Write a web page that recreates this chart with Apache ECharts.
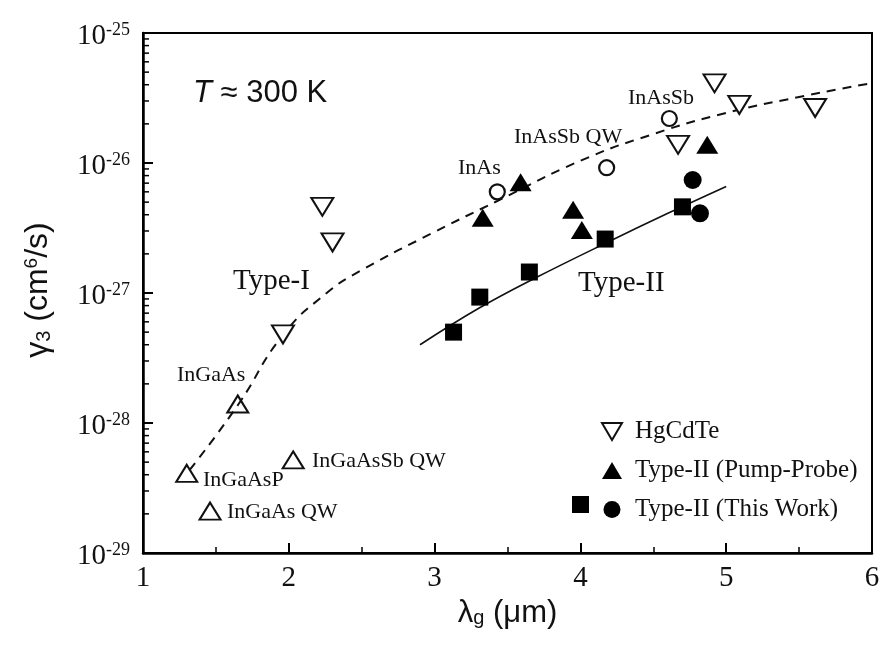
<!DOCTYPE html>
<html>
<head>
<meta charset="utf-8">
<script src="https://cdn.jsdelivr.net/npm/echarts@6/dist/echarts.min.js"></script>
<style>html,body{margin:0;padding:0;background:#fff;}#c{width:883px;height:645px;}#dbg{position:absolute;left:300px;top:300px;font:12px monospace;color:red;white-space:pre;}</style>
</head>
<body>
<div id="c"></div>
<div id="dbg"></div>
<script>
// ---- data ----
const hgcdteX = [1.96, 2.23, 2.30, 4.67, 4.92, 5.09, 5.61];
const hgcdteY = [4.8e-28, 4.6e-27, 2.45e-27, 1.38e-26, 4.1e-26, 2.8e-26, 2.65e-26];

const typeINames = ['InGaAsP', 'InGaAs QW', 'InGaAs', 'InGaAsSb QW'];
const typeIX = [1.30, 1.46, 1.65, 2.03];
const typeIY = [4.1e-29, 2.1e-29, 1.4e-28, 5.2e-29];

const inasNames = ['InAs', 'InAsSb QW', 'InAsSb'];
const inasX = [3.43, 4.18, 4.61];
const inasY = [6.0e-27, 9.2e-27, 2.2e-26];

const pumpX = [3.33, 3.59, 3.95, 4.01, 4.87];
const pumpY = [3.8e-27, 7.1e-27, 4.36e-27, 3.05e-27, 1.38e-26];

const squareX = [3.13, 3.31, 3.65, 4.17, 4.70];
const squareY = [5.0e-28, 9.3e-28, 1.45e-27, 2.6e-27, 4.6e-27];

const circleX = [4.77, 4.82];
const circleY = [7.4e-27, 4.1e-27];

const dashedX = [1.32, 1.65, 1.96, 2.26, 2.5, 3.0, 3.43, 4.0, 4.5, 5.0, 5.5, 6.0];
const dashedY = [4.35e-29, 1.37e-28, 4.75e-28, 1.0e-27, 1.5e-27, 2.95e-27, 5.1e-27, 1.04e-26, 1.67e-26, 2.43e-26, 3.22e-26, 4.12e-26];

const solidX = [2.9, 3.3, 3.7, 4.2, 4.6, 5.0];
const solidY = [4.0e-28, 7.6e-28, 1.32e-27, 2.5e-27, 4.1e-27, 6.6e-27];

const xTicks = [1, 2, 3, 4, 5, 6];
const yMajorTicks = [1e-29, 1e-28, 1e-27, 1e-26, 1e-25];
const yTickExps = ['-29', '-28', '-27', '-26', '-25'];
const yMinorTicks = [
  2e-29, 3e-29, 4e-29, 5e-29, 6e-29, 7e-29, 8e-29, 9e-29,
  2e-28, 3e-28, 4e-28, 5e-28, 6e-28, 7e-28, 8e-28, 9e-28,
  2e-27, 3e-27, 4e-27, 5e-27, 6e-27, 7e-27, 8e-27, 9e-27,
  2e-26, 3e-26, 4e-26, 5e-26, 6e-26, 7e-26, 8e-26, 9e-26
];

const legendNames = ['HgCdTe', 'Type-II (Pump-Probe)', 'Type-II (This Work)'];

// ---- helpers ----
const zip = (xs, ys) => xs.map((x, i) => [x, ys[i]]);
const SERIF = 'Liberation Serif';
const SANS = 'Liberation Sans';
const INK = '#111';
const downTri = 'path://M0,0 L20,0 L10,17 Z';
const upTri = 'path://M10,0 L20,17 L0,17 Z';
const ann = (text, x, y, size) => ({type: 'text', x: x, y: y, z: 10,
  style: {text: text, fontFamily: SERIF, fontSize: size || 22, fill: INK, align: 'left', verticalAlign: 'middle'}});

try {
const chart = echarts.init(document.getElementById('c'), null, {renderer: 'canvas'});

const option = {
  backgroundColor: '#fff',
  animation: false,
  grid: {left: 143, right: 11, top: 33, bottom: 92, show: true, borderColor: '#000', borderWidth: 2, outerBoundsMode: 'none'},
  xAxis: {
    type: 'value', min: xTicks[0], max: xTicks[xTicks.length - 1], interval: 1,
    name: '{a|λ}{g|g}{a| (μm)}', nameLocation: 'middle', nameGap: 42,
    nameTextStyle: {
      rich: {
        a: {fontFamily: SANS, fontSize: 31, lineHeight: 31, color: INK, verticalAlign: 'top', padding: [0, 0, 8, 0]},
        g: {fontFamily: SANS, fontSize: 20, lineHeight: 20, color: INK, verticalAlign: 'bottom'}
      }
    },
    axisLine: {lineStyle: {color: '#000', width: 2.5}},
    axisTick: {inside: true, length: 10, lineStyle: {color: '#000', width: 2}},
    minorTick: {show: true, splitNumber: 2, length: 6, lineStyle: {color: '#000', width: 1.5}},
    axisLabel: {fontFamily: SERIF, fontSize: 29, color: INK, margin: 11, showMinLabel: true, showMaxLabel: true, hideOverlap: false},
    splitLine: {show: false}, minorSplitLine: {show: false}
  },
  yAxis: {
    type: 'log', logBase: 10, min: yMajorTicks[0], max: yMajorTicks[yMajorTicks.length - 1],
    axisLine: {lineStyle: {color: '#000', width: 2.5}},
    axisTick: {inside: true, length: 10, lineStyle: {color: '#000', width: 2}},
    axisLabel: {show: false},
    splitLine: {show: false}
  },
  legend: [
    {
      data: legendNames, orient: 'vertical', left: 601, top: 418, padding: 0,
      itemWidth: 20, itemHeight: 17, itemGap: 12,
      textStyle: {fontFamily: SERIF, fontSize: 25, lineHeight: 27, color: INK, padding: [0, 0, 0, 8]}
    },
    {
      data: ['Type-II (This Work) squares'], left: 572, top: 496, padding: 0,
      itemWidth: 17, itemHeight: 17, formatter: () => '',
      textStyle: {fontFamily: SERIF, fontSize: 25, lineHeight: 27}
    }
  ],
  graphic: [
    {type: 'text', x: 193, y: 93, z: 10, style: {text: '{i|T}{n| ≈ 300 K}', align: 'left', verticalAlign: 'middle', rich: {
      i: {fontFamily: SANS, fontStyle: 'italic', fontSize: 31, fill: INK},
      n: {fontFamily: SANS, fontSize: 31, fill: INK}}}},
    {type: 'text', x: 38, y: 290, rotation: Math.PI / 2, z: 10, style: {
      text: '{a|γ}{sub|3}{a| (cm}{sup|6}{a|/s)}', align: 'center', verticalAlign: 'middle',
      rich: {
        a: {fontFamily: SANS, fontSize: 32, lineHeight: 32, fill: INK, verticalAlign: 'middle', padding: [8, 0, 8, 0]},
        sub: {fontFamily: SANS, fontSize: 20, lineHeight: 20, fill: INK, verticalAlign: 'bottom'},
        sup: {fontFamily: SANS, fontSize: 19, lineHeight: 19, fill: INK, verticalAlign: 'top'}
      }}},
    ann('Type-I', 233, 281, 29),
    ann('Type-II', 578, 283, 29),
    ann(inasNames[0], 458, 168),
    ann(inasNames[1], 514, 137),
    ann(inasNames[2], 628, 98),
    ann(typeINames[2], 177, 375),
    ann(typeINames[0], 203, 480),
    ann(typeINames[1], 227, 512),
    ann(typeINames[3], 312, 461)
  ],
  series: [
    {
      name: 'Type-I fit', type: 'line', data: zip(dashedX, dashedY), smooth: 0.5,
      symbol: 'none', lineStyle: {color: INK, width: 2, type: [9, 7]}, z: 1, silent: true
    },
    {
      name: 'Type-II fit', type: 'line', data: zip(solidX, solidY), smooth: 0.4,
      symbol: 'none', lineStyle: {color: INK, width: 1.6}, z: 1, silent: true
    },
    {
      name: legendNames[0], type: 'scatter', data: zip(hgcdteX, hgcdteY),
      symbol: downTri, symbolSize: [22, 18],
      itemStyle: {color: '#fff', borderColor: INK, borderWidth: 2, opacity: 1}, z: 3
    },
    {
      name: 'Type-I', type: 'scatter', data: zip(typeIX, typeIY),
      symbol: upTri, symbolSize: [21, 17],
      itemStyle: {color: 'rgba(255,255,255,0)', borderColor: INK, borderWidth: 2, opacity: 1}, z: 3
    },
    {
      name: 'InAs', type: 'scatter', data: zip(inasX, inasY),
      symbol: 'circle', symbolSize: 15,
      itemStyle: {color: '#fff', borderColor: INK, borderWidth: 2.2, opacity: 1}, z: 3
    },
    {
      name: legendNames[1], type: 'scatter', data: zip(pumpX, pumpY),
      symbol: upTri, symbolSize: [22, 18],
      itemStyle: {color: '#000', opacity: 1}, z: 3
    },
    {
      name: 'Type-II (This Work) squares', type: 'scatter', data: zip(squareX, squareY),
      symbol: 'rect', symbolSize: 17,
      itemStyle: {color: '#000', opacity: 1}, z: 3
    },
    {
      name: legendNames[2], type: 'scatter', data: zip(circleX, circleY),
      symbol: 'circle', symbolSize: 18,
      itemStyle: {color: '#000', opacity: 1}, z: 3
    },
    {
      name: 'y minor ticks', type: 'custom', silent: true, clip: false, z: 5,
      data: yMinorTicks.map(v => [xTicks[0], v]),
      renderItem: (params, api) => {
        const p = api.coord([api.value(0), api.value(1)]);
        return {type: 'line', shape: {x1: p[0], y1: p[1], x2: p[0] + 6, y2: p[1]},
          style: {stroke: '#000', lineWidth: 1.5}};
      }
    },
    {
      name: 'y labels', type: 'custom', silent: true, clip: false, z: 5,
      data: yMajorTicks.map((v, i) => [xTicks[0], v, i]),
      renderItem: (params, api) => {
        const p = api.coord([api.value(0), api.value(1)]);
        const exp = yTickExps[api.value(2)];
        return {type: 'text', x: p[0] - 13, y: p[1] + 3, style: {
          text: '{b|10}{s|' + exp + '}', align: 'right', verticalAlign: 'middle',
          rich: {
            b: {fontFamily: SERIF, fontSize: 29, lineHeight: 29, fill: INK, verticalAlign: 'bottom', padding: [7, 0, 0, 0]},
            s: {fontFamily: SERIF, fontSize: 18, lineHeight: 18, fill: INK, verticalAlign: 'top'}
          }}};
      }
    }
  ]
};
chart.setOption(option);
} catch (e) { document.getElementById('dbg').textContent = 'ERR ' + e.message; }
</script>
</body>
</html>
